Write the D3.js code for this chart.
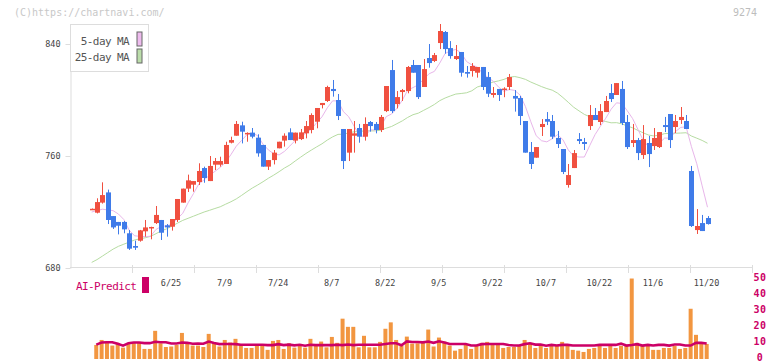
<!DOCTYPE html>
<html>
<head>
<meta charset="utf-8">
<script src="https://cdn.jsdelivr.net/npm/d3@7"></script>
<style>
  html, body { margin: 0; padding: 0; background: #fff; }
  svg { display: block; font-family: "DejaVu Sans Mono", monospace; }
</style>
</head>
<body>
<div id="chart"></div>
<script>
// daily candles, 2025-06-04 .. 2025-11-20 (116 sessions)
const opens = [722.0,719.5,726.7,734.0,717.1,712.9,712.9,704.8,695.7,699.5,706.2,709.0,712.1,714.3,710.5,709.5,714.3,726.7,736.7,739.5,
  741.4,751.4,742.1,753.8,753.8,754.3,769.5,774.5,781.9,776.2,776.7,773.1,767.9,752.4,757.1,765.5,771.0,776.9,771.0,772.1,
  776.2,778.6,784.5,796.4,799.3,807.9,800.0,779.3,762.4,774.5,780.0,773.8,784.3,782.9,778.6,792.1,821.4,797.1,805.7,806.4,
  825.0,825.0,809.3,830.0,827.9,840.7,848.6,837.1,829.3,834.3,820.0,820.7,819.5,823.6,816.4,803.6,807.9,807.5,809.3,802.9,
  801.4,785.0,762.9,758.8,780.7,786.4,785.0,772.9,765.0,739.3,751.4,772.1,770.0,781.4,789.3,784.3,791.4,805.0,803.6,807.9,
  784.3,769.3,771.4,760.7,769.3,767.1,766.4,782.1,790.0,780.7,785.7,785.0,749.3,707.1,712.1,715.7];
const highs = [722.5,729.8,741.2,736.0,717.1,712.9,713.5,707.1,699.5,707.2,714.3,709.5,724.3,714.3,711.4,715.0,729.3,736.7,746.7,742.1,
  754.8,752.4,760.0,758.6,759.5,770.2,773.8,785.0,784.5,776.9,780.0,775.5,767.9,757.1,764.3,770.2,776.2,779.8,776.7,779.3,
  785.0,790.5,794.3,797.9,810.2,814.3,804.3,779.3,779.3,785.0,782.9,787.6,785.0,784.3,789.3,810.0,828.6,806.4,807.9,824.3,
  828.6,825.0,829.3,840.0,833.6,854.3,849.3,842.1,839.3,834.3,824.3,826.4,823.6,823.6,820.0,809.3,807.9,809.1,818.6,807.1,
  802.9,785.0,770.0,766.4,786.4,791.4,789.3,777.9,765.0,754.3,764.3,776.4,772.9,796.4,794.3,797.1,802.9,811.4,812.1,813.6,
  789.3,782.9,772.9,782.1,774.3,780.0,777.1,787.9,790.0,789.3,795.0,789.3,752.9,722.1,717.9,717.1];
const lows = [721.8,719.0,726.0,711.4,707.9,704.0,704.8,692.9,692.9,698.8,702.4,700.5,711.4,700.0,702.4,706.7,712.9,726.7,734.3,734.5,
  739.3,740.9,742.1,750.0,752.4,754.3,769.0,774.5,769.0,770.2,772.6,759.5,752.4,750.0,754.0,765.5,766.7,771.4,769.0,771.4,
  772.6,776.2,779.8,794.0,798.6,802.4,785.7,750.7,756.4,762.4,769.5,771.0,777.4,776.2,777.1,791.4,790.7,794.0,799.3,804.8,
  819.5,800.7,809.3,823.1,827.1,836.4,833.1,829.5,828.6,816.7,816.0,816.7,816.0,807.1,802.1,801.7,799.3,802.0,807.1,791.7,
  782.1,762.4,750.7,758.8,774.3,782.1,772.1,765.7,747.1,737.4,751.4,768.6,764.3,778.6,785.7,782.1,791.4,798.6,803.6,782.1,
  765.0,766.4,757.1,757.9,752.1,764.3,765.7,777.1,765.7,776.4,782.9,779.3,709.3,704.3,706.4,711.0];
const closes = [722.3,727.1,732.1,714.3,709.0,710.2,707.6,693.8,694.5,706.9,709.0,709.3,717.9,705.2,709.0,715.0,729.3,736.7,742.6,742.1,
  749.3,744.3,752.9,756.4,756.4,767.9,771.4,782.9,777.4,776.5,773.8,761.9,752.4,757.1,762.4,770.2,774.5,771.4,776.7,776.9,
  781.4,789.3,794.3,797.9,809.3,806.4,788.6,756.4,779.3,776.2,773.8,782.9,781.4,778.6,787.9,810.0,792.1,802.1,807.1,823.6,
  819.5,802.1,822.1,826.4,832.1,849.3,836.4,831.4,831.4,819.5,818.8,824.3,823.6,809.3,804.5,805.0,803.6,808.2,816.4,801.0,
  788.6,762.4,754.3,766.4,782.9,784.5,773.8,768.6,748.6,746.4,762.1,770.7,768.6,789.3,785.7,792.1,799.3,800.7,812.1,783.6,
  766.4,771.4,762.1,772.1,761.4,772.9,777.1,780.7,771.4,785.0,787.9,779.3,710.0,710.0,706.4,711.4];

const ma5Head = [720.0, 721.0, 722.0, 721.5];
const ma25Head = [684.0,686.0,688.5,691.0,693.5,695.5,697.0,698.5,700.0,700.8,701.6,702.6,
  704.5,706.5,708.0,710.0,712.0,714.0,715.5,717.0,718.5,720.0,721.2,722.5];

// AI-Predict panel (first session has no value)
const aiBars = [null,8.8,11.9,10.9,8.4,10.1,7.1,9.8,10.5,10.3,6.3,6.3,17.6,9.8,7.5,7.8,8.8,16.3,9.8,8.4,
  8.4,7.5,15.7,10.3,7.8,11.9,10.3,12.6,8.8,6.9,6.9,8.4,8.4,5.7,11.3,11.9,6.3,9.8,7.1,8.2,
  7.1,12.6,8.8,10.9,7.3,13.8,10.1,25.2,20.1,20.1,7.3,14.5,7.3,7.3,10.7,18.9,22.9,11.9,8.4,14.0,
  9.6,9.8,10.7,18.4,7.8,13.4,10.9,8.4,5.2,6.3,8.8,6.3,8.2,10.1,10.7,9.8,9.4,6.9,7.5,7.5,
  8.8,11.9,10.1,6.9,8.2,6.9,8.2,8.8,10.7,8.2,5.7,5.2,4.4,6.3,6.9,8.2,6.9,9.4,6.9,8.2,
  8.8,50.3,10.1,8.2,8.2,5.7,5.7,6.9,6.9,8.2,6.3,6.9,31.4,15.1,9.4,9.4];
const aiLine = [null,9.0,10.3,10.5,10.5,9.5,8.3,9.8,10.3,10.3,9.9,9.9,10.8,10.5,10.5,9.7,9.7,10.3,10.1,9.5,
  9.7,9.5,10.9,10.0,9.3,9.4,9.4,9.3,8.9,8.9,8.9,8.9,8.9,8.7,8.7,9.3,8.7,9.0,8.5,8.9,
  8.3,8.9,8.7,8.7,8.7,8.7,8.9,8.7,9.1,8.7,8.9,8.9,8.9,8.9,8.9,9.4,9.8,9.8,8.6,11.0,
  10.6,10.6,10.4,10.9,10.1,11.1,10.3,9.4,9.4,9.4,9.4,8.4,8.4,9.3,9.4,9.4,9.4,9.4,8.7,8.4,
  8.4,9.3,9.8,9.0,9.0,8.3,8.8,8.4,8.8,8.8,8.4,8.4,8.4,8.4,8.4,8.8,8.8,8.8,8.8,9.6,
  8.4,8.8,9.3,8.4,8.8,8.4,8.8,8.8,8.4,9.1,9.1,8.4,8.4,10.1,10.1,9.7];

const dateLabels = ["6/25","7/9","7/24","8/7","8/22","9/5","9/22","10/7","10/22","11/6","11/20"];
const dateIndex = [15,25,35,45,55,65,75,85,95,105,115];
const priceTicks = [680, 760, 840];
const aiTicks = [0, 10, 20, 30, 40, 50];

const width = 772, height = 361;
const up = '#f05040', down = '#3f7be9';
const magenta = '#cc0066';

// moving averages
function movingAvg(n, head) {
  return closes.map((c, i) => {
    if (i < n - 1) return head[i];
    return d3.mean(closes.slice(i - n + 1, i + 1));
  });
}
const ma5 = movingAvg(5, ma5Head);
const ma25 = movingAvg(25, ma25Head);

const svg = d3.select('#chart').append('svg')
  .attr('width', width)
  .attr('height', height);

const x = d3.scaleLinear().domain([0, closes.length - 1]).range([91.7, 707.5]);
const y = d3.scaleLinear().domain([680, 854.3]).range([268, 24]);
const yAi = d3.scaleLinear().domain([0, 50]).range([359, 279]);
const tickScale = d3.scaleLinear().domain([0, 11]).range([70, 752]);

// header texts
svg.append('text').attr('x', 14).attr('y', 16)
  .attr('font-size', 10).attr('fill', '#c8c8c8')
  .text('(C)https://chartnavi.com/');
svg.append('text').attr('x', 757).attr('y', 16).attr('text-anchor', 'end')
  .attr('font-size', 10).attr('fill', '#bdbdbd')
  .text('9274');

// price axis
const yAxis = svg.append('g')
  .attr('transform', 'translate(70.5,0)')
  .call(d3.axisLeft(y).tickValues(priceTicks).tickSize(5).tickSizeOuter(0).tickFormat(d3.format('d')));
yAxis.select('.domain').attr('stroke', '#ddd');
yAxis.selectAll('.tick line').attr('stroke', '#ddd');
yAxis.selectAll('.tick text').attr('fill', '#444').attr('font-size', 8.5)
  .attr('font-family', '"DejaVu Sans Mono", monospace').attr('x', -10);

// time axis line and ticks
svg.append('line').attr('x1', 70).attr('x2', 752).attr('y1', 267.5).attr('y2', 267.5)
  .attr('stroke', '#ddd');
svg.selectAll('.xtick').data(d3.range(1, 12)).enter().append('line')
  .attr('class', 'xtick')
  .attr('x1', d => Math.round(tickScale(d)) + 0.5).attr('x2', d => Math.round(tickScale(d)) + 0.5)
  .attr('y1', 265).attr('y2', 273)
  .attr('stroke', '#ddd');
svg.selectAll('.xlabel').data(dateLabels).enter().append('text')
  .attr('class', 'xlabel')
  .attr('x', (d, i) => x(dateIndex[i]) - 1)
  .attr('y', 286)
  .attr('text-anchor', 'middle')
  .attr('font-size', 8.5).attr('fill', '#444')
  .text(d => d);

// moving averages
const maLine = d3.line().x((d, i) => x(i)).y(d => y(d));
svg.append('path').datum(ma25).attr('d', maLine)
  .attr('fill', 'none').attr('stroke', '#b6dca2').attr('stroke-width', 1);
svg.append('path').datum(ma5).attr('d', maLine)
  .attr('fill', 'none').attr('stroke', '#e8b6ea').attr('stroke-width', 1);

// candles
const candle = svg.selectAll('.candle').data(closes).enter().append('g').attr('class', 'candle');
candle.append('line')
  .attr('x1', (d, i) => Math.round(x(i)) + 0.5).attr('x2', (d, i) => Math.round(x(i)) + 0.5)
  .attr('y1', (d, i) => y(highs[i])).attr('y2', (d, i) => y(lows[i]))
  .attr('stroke', (d, i) => d >= opens[i] ? up : down);
candle.append('rect')
  .attr('x', (d, i) => Math.round(x(i)) - 2)
  .attr('width', 5)
  .attr('y', (d, i) => y(Math.max(d, opens[i])))
  .attr('height', (d, i) => Math.max(1.5, Math.abs(y(d) - y(opens[i]))))
  .attr('fill', (d, i) => d >= opens[i] ? up : down);

// legend
svg.append('rect').attr('x', 70.5).attr('y', 24.5).attr('width', 78).attr('height', 47)
  .attr('fill', '#fff').attr('stroke', '#ddd');
const legendItems = [['5-day MA', '#eebbee'], ['25-day MA', '#bbddaa']];
legendItems.forEach((it, i) => {
  svg.append('text').attr('x', 129).attr('y', 45 + i * 16)
    .attr('text-anchor', 'end').attr('font-size', 11).attr('letter-spacing', -0.6)
    .attr('fill', '#555').text(it[0]);
  svg.append('rect').attr('x', 137).attr('y', 32 + i * 17).attr('width', 5).attr('height', 14)
    .attr('fill', it[1]).attr('stroke', '#666');
});

// AI-Predict panel
svg.append('text').attr('x', 76).attr('y', 290)
  .attr('font-size', 11).attr('letter-spacing', -0.6).attr('fill', magenta)
  .text('AI-Predict');
svg.append('rect').attr('x', 142).attr('y', 277).attr('width', 7).attr('height', 16)
  .attr('fill', magenta);

const barData = aiBars.map((v, i) => ({ i, v })).filter(d => d.v != null);
svg.selectAll('.aibar').data(barData).enter().append('rect')
  .attr('class', 'aibar')
  .attr('x', d => x(d.i) - 2.8)
  .attr('width', 4)
  .attr('y', d => yAi(d.v))
  .attr('height', d => yAi(0) - yAi(d.v))
  .attr('fill', '#f29640');

const aiPath = d3.line().defined(d => d != null).x((d, i) => x(i) - 0.8).y(d => yAi(d));
svg.append('path').datum(aiLine).attr('d', aiPath)
  .attr('fill', 'none').attr('stroke', magenta).attr('stroke-width', 2.6);

svg.selectAll('.aitick').data(aiTicks).enter().append('text')
  .attr('class', 'aitick')
  .attr('x', 760).attr('y', d => yAi(d) + 1.5)
  .attr('text-anchor', 'middle')
  .attr('font-size', 10).attr('font-weight', 'bold').attr('letter-spacing', 0.6)
  .attr('fill', magenta)
  .text(d => d);
</script>
</body>
</html>
